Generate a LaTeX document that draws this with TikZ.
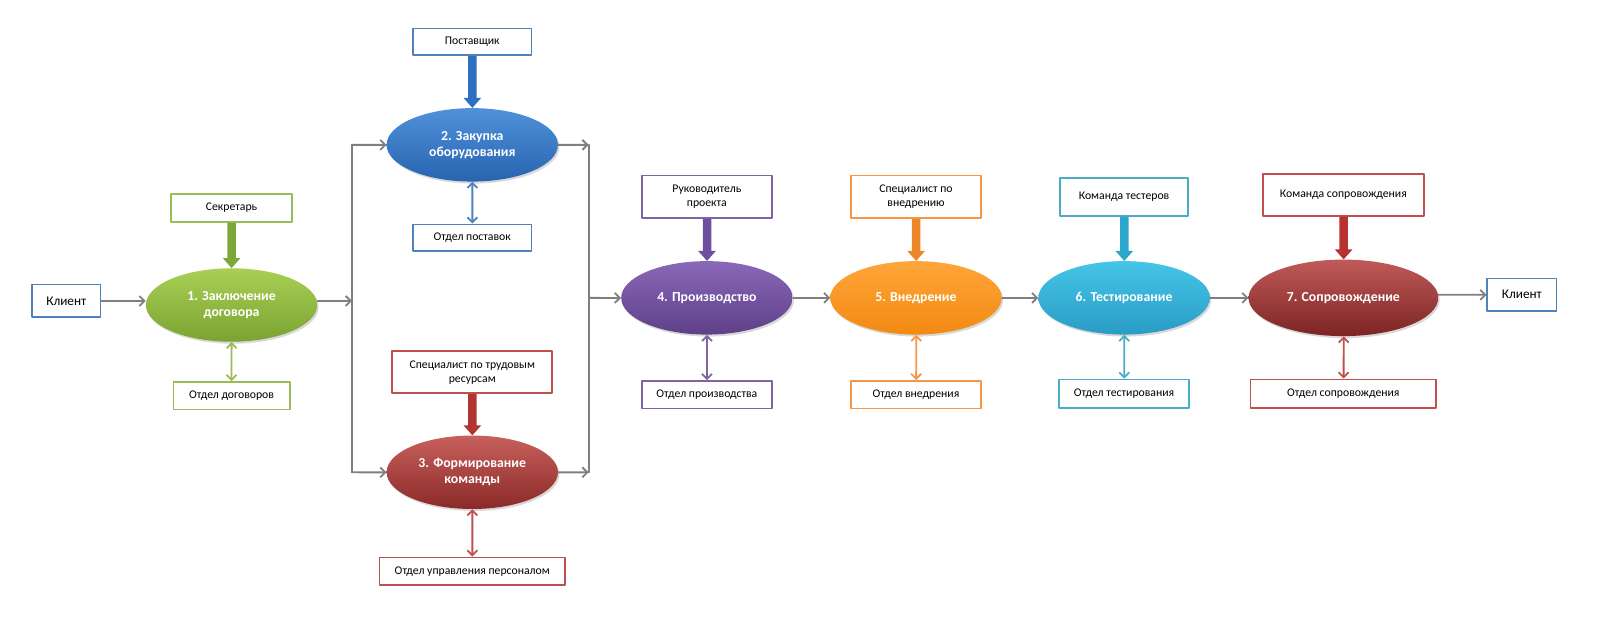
\documentclass[tikz,border=0pt]{standalone}
\usepackage{fontspec}
\setmainfont{Carlito}
\usetikzlibrary{arrows.meta,shapes.geometric,shadows}

\definecolor{cGrey}{HTML}{7F7F7F}
\definecolor{cBlue}{HTML}{4F81BD}
\definecolor{cGreen}{HTML}{9BBB59}
\definecolor{cRed}{HTML}{C0504D}
\definecolor{cPurple}{HTML}{8064A2}
\definecolor{cOrange}{HTML}{F79646}
\definecolor{cAqua}{HTML}{4BACC6}
% darker tones of the resource arrows
\definecolor{fGreen}{HTML}{7CA83A}
\definecolor{fBlue}{HTML}{2E70C0}
\definecolor{fRed}{HTML}{B03432}
\definecolor{fPurple}{HTML}{6F4FA0}
\definecolor{fOrange}{HTML}{EC8628}
\definecolor{fAqua}{HTML}{2CA6CC}
\definecolor{fDark}{HTML}{B83232}

\begin{document}
\begin{tikzpicture}[x=1pt,y=-1pt,scale=1.02,every node/.style={transform shape},>={Straight Barb[length=5pt,width=10pt]}, line join=round, line cap=round]
	\tikzset{
		stage/.style={ellipse, minimum width=168pt, minimum height=72pt, align=center, text=white,
			font=\bfseries\fontsize{13.5}{16}\selectfont,
			drop shadow={opacity=.3,shadow xshift=1.5pt,shadow yshift=-2pt}},
		role/.style={draw=#1, line width=1.8pt, fill=white, inner sep=2pt, align=center,
			font=\fontsize{11.5}{14}\selectfont},
		flow/.style={->, draw=cGrey, line width=1.8pt},
		feed/.style={draw=#1, line width=8.5pt, line cap=butt, -{Triangle[width=17pt,length=10pt]}},
		link/.style={<->, draw=#1, line width=1.8pt}
	}
	\useasboundingbox (0,0) rectangle (1568.6,605.9);
	% stages
	\node[stage, top color={rgb,255:red,169;green,207;blue,84}, bottom color={rgb,255:red,122;green,163;blue,50}] (e1) at (227,299) {1. Заключение\\договора};
	\node[stage, top color={rgb,255:red,80;green,145;blue,218}, bottom color={rgb,255:red,40;green,100;blue,176}] (e2) at (463,142) {2. Закупка\\оборудования};
	\node[stage, top color={rgb,255:red,200;green,96;blue,92}, bottom color={rgb,255:red,138;green,42;blue,40}] (e3) at (463,463) {3. Формирование\\команды};
	\node[stage, top color={rgb,255:red,138;green,104;blue,184}, bottom color={rgb,255:red,94;green,64;blue,136}] (e4) at (693,292) {4. Производство};
	\node[stage, top color={rgb,255:red,255;green,165;blue,58}, bottom color={rgb,255:red,242;green,138;blue,18}] (e5) at (898,292) {5. Внедрение};
	\node[stage, top color={rgb,255:red,69;green,197;blue,232}, bottom color={rgb,255:red,42;green,156;blue,197}] (e6) at (1102,292) {6. Тестирование};
	\node[stage, minimum width=186pt, minimum height=75pt, top color={rgb,255:red,192;green,90;blue,88}, bottom color={rgb,255:red,124;green,36;blue,36}] (e7) at (1317,292) {7. Сопровождение};
	% clients
	\node[role=cBlue, minimum width=67pt, minimum height=32pt, font=\fontsize{13}{15}\selectfont] (kl1) at (65,295) {Клиент};
	\node[role=cBlue, minimum width=68pt, minimum height=32pt, font=\fontsize{13}{15}\selectfont] (kl2) at (1492,289) {Клиент};
	% roles above
	\node[role=cGreen, minimum width=119pt, minimum height=27pt] (sekr) at (227,204) {Секретарь};
	\node[role=cBlue, minimum width=116pt, minimum height=26pt] (post) at (463,41) {Поставщик};
	\node[role=cRed, minimum width=157pt, minimum height=41pt] (spec) at (463,365) {Специалист по трудовым\\ресурсам};
	\node[role=cPurple, minimum width=127pt, minimum height=42pt] (ruk) at (693,193) {Руководитель\\проекта};
	\node[role=cOrange, minimum width=127pt, minimum height=42pt] (vned) at (898,193) {Специалист по\\внедрению};
	\node[role=cAqua, minimum width=126pt, minimum height=37pt] (test) at (1102,193) {Команда тестеров};
	\node[role=cRed, minimum width=158pt, minimum height=41pt] (sopr) at (1317,191) {Команда сопровождения};
	% departments below
	\node[role=cGreen, minimum width=114pt, minimum height=27pt] (od1) at (227,388) {Отдел договоров};
	\node[role=cBlue, minimum width=116pt, minimum height=26pt] (od2) at (463,233) {Отдел поставок};
	\node[role=cRed, minimum width=182pt, minimum height=27pt] (od3) at (463,560) {Отдел управления персоналом};
	\node[role=cPurple, minimum width=127pt, minimum height=27pt] (od4) at (693,387) {Отдел производства};
	\node[role=cOrange, minimum width=127pt, minimum height=27pt] (od5) at (898,387) {Отдел внедрения};
	\node[role=cAqua, minimum width=128pt, minimum height=28pt] (od6) at (1102,386) {Отдел тестирования};
	\node[role=cRed, minimum width=182pt, minimum height=28pt] (od7) at (1317,386) {Отдел сопровождения};
	% split and join
	\coordinate (sl) at (345,295);
	\coordinate (sr) at (577,292);
	\draw[flow] (kl1) -- (kl1 -| e1.west);
	\draw[flow] (e1.east |- sl) -- (sl);
	\draw[draw=cGrey, line width=1.8pt] (e2 -| sl) -- (e3 -| sl) (e2 -| sr) -- (e3 -| sr);
	\draw[flow] (e2 -| sl) -- (e2);
	\draw[flow] (e3 -| sl) -- (e3);
	\draw[flow] (e2) -- (e2 -| sr);
	\draw[flow] (e3) -- (e3 -| sr);
	\draw[flow] (sr) -- (e4);
	\foreach \a/\b in {e4/e5,e5/e6,e6/e7}
	\draw[flow] (\a) -- (\b);
	\draw[flow] (e7.east |- kl2) -- (kl2);
	% resources
	\foreach \a/\b/\c in {sekr/e1/fGreen,post/e2/fBlue,spec/e3/fRed,ruk/e4/fPurple,vned/e5/fOrange,test/e6/fAqua,sopr/e7/fDark}
	\draw[feed=\c] (\a) -- (\b);
	% departments
	\foreach \a/\b/\c in {e1/od1/cGreen,e2/od2/cBlue,e3/od3/cRed,e4/od4/cPurple,e5/od5/cOrange,e6/od6/cAqua,e7/od7/cRed}
	\draw[link=\c] (\a) -- (\b);
\end{tikzpicture}
\end{document}
